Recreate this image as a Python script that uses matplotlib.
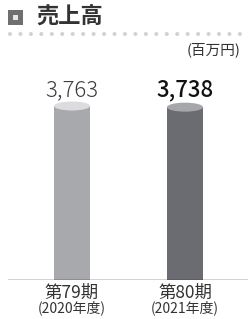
import matplotlib.pyplot as plt
from matplotlib.patches import Ellipse, Rectangle

plt.rcParams['font.family'] = ['Noto Sans CJK JP', 'DejaVu Sans']

periods = ['第79期', '第80期']
years = ['(2020年度)', '(2021年度)']
sales = [3763, 3738]
value_labels = ['3,763', '3,738']
body_colors = ['#a8a9ad', '#6b6c71']
top_colors = ['#dcdcde', '#a6a7aa']
label_colors = ['#3c3c3c', '#111111']
label_weights = ['light', 'medium']

W, H = 248, 319
fig = plt.figure(figsize=(W / 100, H / 100), dpi=100)

# axes in pixel terms: x 8..248, y from baseline 280 up to 40
ax = fig.add_axes([8 / W, 1 - 280 / H, 240 / W, 240 / H])
xpos = [0, 1]
bw = 36 / 113
ymax = sales[0] * 240 / 174
ax.set_xlim(-64 / 113, 1 + 63 / 113)
ax.set_ylim(0, ymax)
ax.axis('off')

ell_h = 9 * ymax / 240
for x, v, bc, tc in zip(xpos, sales, body_colors, top_colors):
    ax.bar(x, v, width=bw, color=bc, linewidth=0)
    ax.add_patch(Ellipse((x, v), bw, ell_h, facecolor=tc, edgecolor='none'))

for x, v, t, c, w in zip(xpos, sales, value_labels, label_colors, label_weights):
    ax.annotate(t, (x, max(sales)), xytext=(0, 10), textcoords='offset pixels',
                ha='center', va='baseline', fontsize=16, color=c,
                fontweight=w)

ax.axhline(0, color='#222222', linewidth=1.0)

for x, p, yr in zip(xpos, periods, years):
    ax.annotate(p, (x, 0), xytext=(0, -13), textcoords='offset pixels',
                ha='center', va='center', fontsize=12.5, color='#333333')
    ax.annotate(yr, (x, 0), xytext=(0, -28), textcoords='offset pixels',
                ha='center', va='center', fontsize=10, color='#333333')

# header
fig.patches.append(Rectangle((8 / W, 1 - 25 / H), 15 / W, 15 / H,
                             transform=fig.transFigure, facecolor='#6f6f72',
                             edgecolor='none'))
fig.patches.append(Rectangle((13 / W, 1 - 20 / H), 5 / W, 5 / H,
                             transform=fig.transFigure, facecolor='#e6e6e6',
                             edgecolor='none'))
fig.text(36 / W, 1 - 17 / H, '売上高', fontsize=16, fontweight='bold',
         color='#333333', va='center', ha='left')
for i in range(23):
    cx = 10 + i * 10.45
    fig.patches.append(Ellipse((cx / W, 1 - 34 / H), 4 / W, 4 / H,
                               transform=fig.transFigure, facecolor='#d2d2d4',
                               edgecolor='none'))
fig.text(240 / W, 1 - 50 / H, '(百万円)', fontsize=10.5, color='#333333',
         ha='right', va='center')

fig.savefig('out.png', dpi=100)
